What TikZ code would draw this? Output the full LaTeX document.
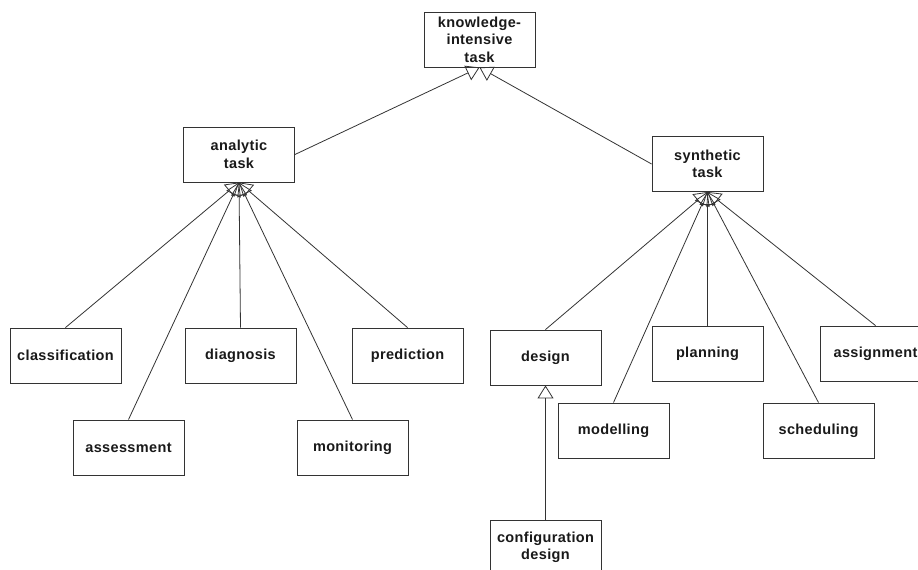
\documentclass[tikz,border=0pt]{standalone}
\usepackage{fontspec}
\setmainfont{Liberation Sans}[LetterSpace=2.5]
\usetikzlibrary{arrows.meta}
\begin{document}
\begin{tikzpicture}[x=1pt,y=-1pt,
  box/.style={draw=black!80, line width=0.9pt, minimum width=111pt, minimum height=55pt, inner sep=0pt,
    align=center, font=\fontsize{14.5}{17.5}\selectfont\bfseries, text=black!90},
  isa/.style={draw=black!80, line width=0.8pt, -{Triangle[open, length=13pt, width=16pt, line width=0.8pt]}}]
\useasboundingbox (0,0) rectangle (918,570);
\node[box] (kit) at (479.5,39.5) {knowledge-\\intensive\\task};
\node[box] (an) at (239,154.5) {analytic\\task};
\node[box] (syn) at (707.5,164) {synthetic\\task};
\node[box] (cla) at (65.5,355.5) {classification};
\node[box] (dia) at (240.5,355.5) {diagnosis};
\node[box] (pre) at (407.5,355.5) {prediction};
\node[box] (ass) at (128.5,447.5) {assessment};
\node[box] (mon) at (352.5,447.5) {monitoring};
\node[box] (des) at (545.5,357.5) {design};
\node[box] (pla) at (707.5,353.5) {planning};
\node[box] (asg) at (875.5,353.5) {assignment};
\node[box] (mod) at (613.5,430.5) {modelling};
\node[box] (sch) at (818.5,430.5) {scheduling};
\node[box] (cfg) at (545.5,547.5) {configuration\\design};
\draw[isa] (an.east) -- (kit.south);
\draw[isa] (syn.west) -- (kit.south);
\foreach \c in {cla,dia,pre,ass,mon} \draw[isa] (\c.north) -- (an.south);
\foreach \c in {des,pla,asg,mod,sch} \draw[isa] (\c.north) -- (syn.south);
\draw[isa] (cfg.north) -- (des.south);
\end{tikzpicture}
\end{document}
